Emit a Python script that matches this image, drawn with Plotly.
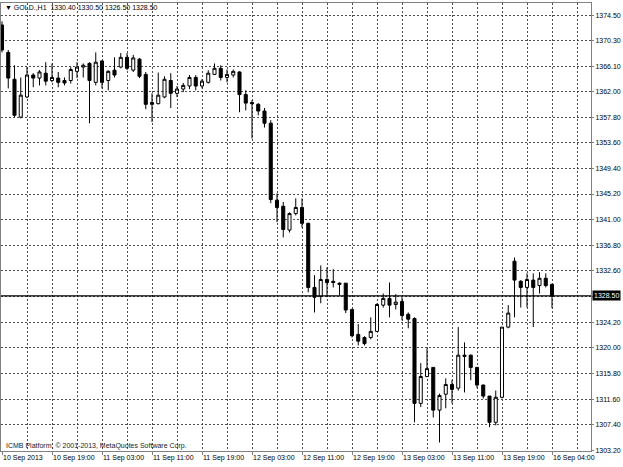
import plotly.graph_objects as go

# ---- data (GOLD., H1) ----
bars = list(range(89))
opens = [1372.9, 1368.4, 1364.0, 1357.8, 1361.1, 1364.7, 1364.2, 1365.0, 1363.8, 1364.2,
         1363.8, 1363.8, 1365.3, 1366.0, 1366.6, 1363.5, 1367.0, 1363.8, 1365.5, 1366.0,
         1367.6, 1365.5, 1367.3, 1364.8, 1360.2, 1360.0, 1361.1, 1363.8, 1361.7, 1362.4,
         1362.9, 1364.3, 1362.9, 1363.5, 1364.8, 1365.8, 1364.3, 1364.7, 1365.2, 1361.5,
         1360.2, 1359.9, 1358.8, 1356.8, 1344.2, 1343.2, 1339.3, 1342.0, 1343.0, 1340.4,
         1329.9, 1328.4, 1331.2, 1330.9, 1330.6, 1330.6, 1326.3, 1322.2, 1321.7, 1321.7,
         1322.7, 1327.0, 1328.1, 1327.1, 1327.6, 1325.5, 1324.8, 1310.9, 1315.3, 1316.8,
         1309.8, 1312.4, 1314.0, 1313.4, 1318.8, 1318.8, 1316.8, 1313.9, 1312.1, 1307.8,
         1311.9, 1323.4, 1334.2, 1330.9, 1329.9, 1331.1, 1330.2, 1331.4, 1330.4]
highs = [1373.5, 1368.8, 1366.3, 1364.3, 1366.0, 1365.0, 1365.5, 1366.8, 1366.6, 1365.2,
         1364.3, 1366.0, 1366.8, 1366.6, 1366.8, 1368.4, 1367.1, 1365.5, 1367.6, 1368.3,
         1368.3, 1368.0, 1367.5, 1365.2, 1361.7, 1365.1, 1364.5, 1365.0, 1362.9, 1363.4,
         1364.7, 1364.7, 1364.0, 1365.5, 1366.6, 1366.3, 1365.6, 1365.6, 1365.3, 1362.2,
         1360.6, 1360.1, 1359.3, 1357.3, 1345.3, 1343.9, 1342.2, 1344.5, 1344.5, 1340.5,
         1331.9, 1333.5, 1333.2, 1332.9, 1330.7, 1330.6, 1326.3, 1323.9, 1321.9, 1325.0,
         1327.3, 1328.9, 1330.7, 1328.8, 1328.3, 1325.8, 1325.0, 1317.5, 1319.9, 1316.8,
         1312.5, 1315.0, 1314.7, 1323.4, 1320.9, 1318.9, 1316.8, 1314.0, 1312.1, 1313.0,
         1323.4, 1327.0, 1334.8, 1331.1, 1332.2, 1332.2, 1332.4, 1332.2, 1330.5]
lows = [1368.4, 1362.5, 1357.8, 1357.6, 1360.9, 1362.7, 1363.0, 1363.0, 1363.5, 1362.7,
        1363.0, 1363.3, 1364.2, 1364.3, 1356.8, 1363.0, 1362.5, 1362.2, 1364.3, 1365.8,
        1365.5, 1365.2, 1364.2, 1359.1, 1357.0, 1359.9, 1360.9, 1359.3, 1361.1, 1361.9,
        1362.4, 1362.2, 1362.5, 1363.3, 1364.7, 1363.8, 1363.5, 1364.3, 1358.6, 1358.9,
        1354.3, 1358.1, 1356.1, 1343.7, 1340.6, 1338.1, 1338.9, 1341.7, 1339.7, 1329.1,
        1325.8, 1327.3, 1328.3, 1329.9, 1328.6, 1325.7, 1321.7, 1320.4, 1320.4, 1321.4,
        1322.6, 1326.6, 1325.0, 1326.3, 1324.5, 1323.2, 1307.8, 1310.3, 1315.2, 1308.6,
        1304.5, 1310.1, 1310.9, 1313.0, 1312.7, 1314.7, 1313.4, 1311.7, 1307.0, 1307.3,
        1311.7, 1323.2, 1325.0, 1326.6, 1326.6, 1323.4, 1328.9, 1329.9, 1326.5]
closes = [1368.8, 1364.2, 1358.1, 1361.4, 1364.7, 1364.2, 1365.2, 1363.7, 1364.3, 1363.5,
          1363.4, 1365.6, 1366.0, 1366.3, 1363.8, 1366.8, 1363.5, 1365.3, 1364.7, 1367.6,
          1365.8, 1367.5, 1364.5, 1359.9, 1359.9, 1361.4, 1364.0, 1361.7, 1362.4, 1363.0,
          1364.3, 1362.9, 1363.7, 1365.0, 1365.8, 1364.3, 1364.8, 1365.3, 1361.5, 1360.1,
          1360.0, 1358.8, 1356.8, 1344.3, 1343.0, 1339.4, 1342.0, 1343.0, 1340.4, 1329.9,
          1328.3, 1331.2, 1330.7, 1330.7, 1330.4, 1326.2, 1322.0, 1321.1, 1320.7, 1322.7,
          1327.1, 1328.1, 1327.0, 1327.5, 1325.3, 1324.7, 1310.9, 1315.3, 1316.6, 1309.8,
          1312.2, 1314.0, 1313.2, 1318.8, 1318.6, 1316.8, 1313.9, 1312.1, 1307.8, 1311.9,
          1323.4, 1325.7, 1331.1, 1329.9, 1331.2, 1329.9, 1331.4, 1330.2, 1328.5]

time_label_bars = [0, 8, 16, 24, 32, 40, 48, 56, 64, 72, 80, 88]
time_labels = ["10 Sep 2013", "10 Sep 19:00", "11 Sep 03:00", "11 Sep 11:00",
               "11 Sep 19:00", "12 Sep 03:00", "12 Sep 11:00", "12 Sep 19:00",
               "13 Sep 03:00", "13 Sep 11:00", "13 Sep 19:00", "16 Sep 04:00"]
minor_grid_bars = [4, 12, 20, 28, 36, 44, 52, 60, 68, 76, 84, 92]
price_ticks = [1374.50, 1370.30, 1366.10, 1362.00, 1357.80, 1353.60, 1349.40, 1345.20,
               1341.00, 1336.80, 1332.60, 1328.40, 1324.20, 1320.00, 1315.80, 1311.60,
               1307.40, 1303.20]
price_tick_text = ["1374.50", "1370.30", "1366.10", "1362.00", "1357.80", "1353.60",
                   "1349.40", "1345.20", "1341.00", "1336.80", "1332.60", "",
                   "1324.20", "1320.00", "1315.80", "1311.60", "1307.40", "1303.20"]
last_price = 1328.50
header = "▼ GOLD.,H1  1330.40 1330.50 1326.50 1328.50"
copyright_text = "ICMB Platform, © 2001-2013, MetaQuotes Software Corp."

FONT = "Liberation Sans, Arial, sans-serif"
FS = 7
GRID = "#4d4d4d"
BORDER = "#808080"

fig = go.Figure()
fig.add_trace(go.Candlestick(
    x=bars, open=opens, high=highs, low=lows, close=closes,
    increasing=dict(line=dict(color="black", width=1), fillcolor="white"),
    decreasing=dict(line=dict(color="black", width=1), fillcolor="black"),
    whiskerwidth=0, hoverinfo="skip", showlegend=False,
))

fig.add_shape(type="line", xref="paper", x0=0, x1=1, yref="y", y0=last_price, y1=last_price,
              line=dict(color="black", width=1.3), layer="above")

fig.add_annotation(xref="paper", x=1, xanchor="left", xshift=1, yref="y", y=last_price,
                   text="1328.50", showarrow=False, bgcolor="black",
                   font=dict(family=FONT, size=FS, color="white"), borderpad=1)
fig.add_annotation(xref="paper", x=0, xanchor="left", xshift=2, yref="paper", y=0.99,
                   yanchor="middle", text=header, showarrow=False,
                   font=dict(family=FONT, size=FS, color="black"))
fig.add_annotation(xref="paper", x=0, xanchor="left", xshift=3, yref="paper", y=0.012,
                   yanchor="middle", text=copyright_text, showarrow=False,
                   font=dict(family=FONT, size=FS, color="#222222"))

fig.update_layout(
    width=623, height=467,
    margin=dict(l=1, r=32, t=3, b=16, autoexpand=False),
    paper_bgcolor="white", plot_bgcolor="white",
    font=dict(family=FONT, size=FS, color="black"),
    showlegend=False,
    xaxis=dict(
        range=[-0.16, 94.24], rangeslider=dict(visible=False),
        tickmode="array", tickvals=time_label_bars, ticktext=time_labels,
        ticklabelposition="outside right", tickangle=0, automargin=False,
        ticks="outside", ticklen=3, tickcolor=BORDER,
        showgrid=True, gridcolor=GRID, gridwidth=1, griddash="2px,2px",
        minor=dict(tickmode="array", tickvals=minor_grid_bars, showgrid=True,
                   gridcolor=GRID, gridwidth=1, griddash="2px,2px", ticks=""),
        showline=True, mirror=True, linecolor=BORDER, linewidth=1,
        zeroline=False, tickfont=dict(family=FONT, size=FS, color="black"),
    ),
    yaxis=dict(
        side="right", range=[1303.1, 1376.5], automargin=False,
        tickmode="array", tickvals=price_ticks, ticktext=price_tick_text,
        ticks="outside", ticklen=2, tickcolor=BORDER,
        showgrid=True, gridcolor=GRID, gridwidth=1, griddash="2px,2px",
        showline=True, mirror=True, linecolor=BORDER, linewidth=1,
        zeroline=False, tickfont=dict(family=FONT, size=FS, color="black"),
    ),
)

fig.write_html("out.html",
               config={"displayModeBar": False, "staticPlot": True},
               post_script="document.body.style.margin='0';document.body.style.overflow='hidden';")
